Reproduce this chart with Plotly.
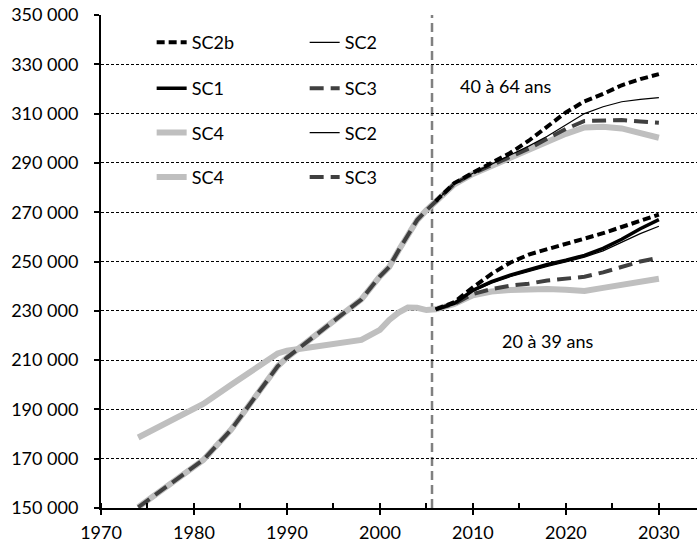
import plotly.graph_objects as go

# ---------------- data ----------------
hist_years = [1974, 1981, 1984, 1989, 1990, 1998, 2000, 2001, 2002, 2003, 2004, 2005]
hist_40_64 = [150300, 169500, 181800, 207500, 211000, 234600, 244000, 247800, 254500, 261000, 266800, 270800]
hist_20_39 = [178600, 192200, 200000, 212700, 213800, 218200, 222300, 226300, 229300, 231300, 231200, 230300]

proj_years = [2006, 2008, 2010, 2012, 2014, 2016, 2018, 2020, 2022, 2024, 2026, 2028, 2030]

# 40 à 64 ans
a_sc2b = [274500, 281800, 286000, 290000, 294000, 299000, 304500, 310500, 315000, 318000, 321500, 324000, 326000]
a_sc2 = [274500, 281500, 285800, 289500, 293000, 296800, 300800, 305500, 310000, 312800, 314800, 315800, 316500]
a_sc3 = [274500, 281500, 285700, 289000, 292200, 295800, 299800, 303800, 307000, 307300, 307400, 306800, 306300]
a_sc4 = [274500, 281300, 285500, 288700, 291700, 295200, 298700, 301800, 304400, 304700, 304000, 302300, 300200]

# 20 à 39 ans
b_sc2b = [230600, 233500, 239500, 245000, 249500, 252800, 255000, 257000, 259300, 261500, 264000, 266500, 269000]
b_sc1 = [230600, 233000, 238300, 241800, 244500, 246800, 248800, 250500, 252500, 255300, 259000, 263300, 267000]
b_sc2 = [230600, 233000, 238000, 241200, 243800, 246000, 248000, 249800, 251800, 254300, 257800, 261300, 264300]
b_sc3 = [230600, 232800, 236800, 238800, 240200, 241000, 242300, 243200, 243800, 245600, 248000, 250000, 251500]
b_sc4 = [230600, 232800, 236300, 237800, 238400, 238800, 238800, 238500, 238000, 239300, 240600, 242000, 243000]

x_ticks = [1970, 1980, 1990, 2000, 2010, 2020, 2030]
census_year = 2005.6
label_a = ("40 à 64 ans", 2013.6, 321300)
label_b = ("20 à 39 ans", 2018.1, 217600)

# ---------------- styles ----------------
FONT = "Lato, 'Open Sans', sans-serif"
GRAY = "#BFBFBF"
DARK = "#404040"

fig = go.Figure()

def add(x, y, name, color, width, dash, legend, rank, show=True):
    fig.add_trace(go.Scatter(
        x=x, y=y, mode="lines", name=name,
        line=dict(color=color, width=width, dash=dash),
        legend=legend, legendrank=rank, showlegend=show,
        hoverinfo="x+y+name",
    ))

# draw order: grey first, then dashed grey, thin, thick, dashed black
add(hist_years + proj_years, hist_20_39 + b_sc4, "SC4", GRAY, 6, "solid", "legend4", 1)
add(hist_years + proj_years, hist_40_64 + a_sc4, "SC4", GRAY, 6, "solid", "legend3", 1)
add(hist_years + proj_years, hist_40_64 + a_sc3, "SC3", DARK, 4, "14px,7px", "legend2", 2)
add(proj_years, b_sc3, "SC3", DARK, 4, "14px,7px", "legend4", 2)
add(proj_years, a_sc2, "SC2", "#000000", 1.2, "solid", "legend", 2)
add(proj_years, b_sc2, "SC2", "#000000", 1.2, "solid", "legend3", 2)
add(proj_years, b_sc1, "SC1", "#000000", 3.5, "solid", "legend2", 1)
add(proj_years, a_sc2b, "SC2b", "#000000", 4, "8px,4px", "legend", 1)
add(proj_years, b_sc2b, "SC2b", "#000000", 4, "8px,4px", "legend", 3, show=False)

fig.add_shape(type="line", x0=census_year, x1=census_year, xref="x", y0=0, y1=1, yref="paper",
              line=dict(color="#808080", width=2.5, dash="9px,5px"), layer="below")

for txt, xx, yy in (label_a, label_b):
    fig.add_annotation(x=xx, y=yy, text=txt, showarrow=False,
                       font=dict(family=FONT, size=18, color="#000"))

legend_common = dict(orientation="h", x=0.085, xanchor="left", yanchor="middle",
                     entrywidth=108, entrywidthmode="pixels", bgcolor="rgba(0,0,0,0)",
                     font=dict(family=FONT, size=18, color="#000"), borderwidth=0)
row_y = [0.944, 0.851, 0.761, 0.671]

fig.update_layout(
    width=697, height=550,
    margin=dict(l=101, r=0, t=15, b=42),
    paper_bgcolor="white", plot_bgcolor="white",
    separators=", ",
    font=dict(family=FONT, size=18, color="#000"),
    legend=dict(y=row_y[0], **legend_common),
    legend2=dict(y=row_y[1], **legend_common),
    legend3=dict(y=row_y[2], **legend_common),
    legend4=dict(y=row_y[3], **legend_common),
    xaxis=dict(
        range=[1970, 2034.1], tickvals=x_ticks, ticks="outside", ticklen=5, tickwidth=1.5,
        tickcolor="#000", showline=True, linecolor="#000", linewidth=2, showgrid=False,
        zeroline=False, tickfont=dict(family=FONT, size=18, color="#000"),
        ticklabelstandoff=2,
        minor=dict(dtick=5, tick0=1970, ticks="inside", ticklen=5, tickwidth=1.5,
                   tickcolor="#000", showgrid=False),
    ),
    yaxis=dict(
        range=[150000, 350000], dtick=20000, tick0=150000, tickformat=",d",
        ticks="outside", ticklen=5, tickwidth=1.5, tickcolor="#000",
        showline=True, linecolor="#000", linewidth=2,
        showgrid=True, gridcolor="#000", gridwidth=1, griddash="3px,2px",
        zeroline=False, tickfont=dict(family=FONT, size=18, color="#000"),
        ticklabelstandoff=12,
    ),
)

fig.write_html("out.html", config={"displayModeBar": False},
               post_script="document.body.style.margin='0px';")
